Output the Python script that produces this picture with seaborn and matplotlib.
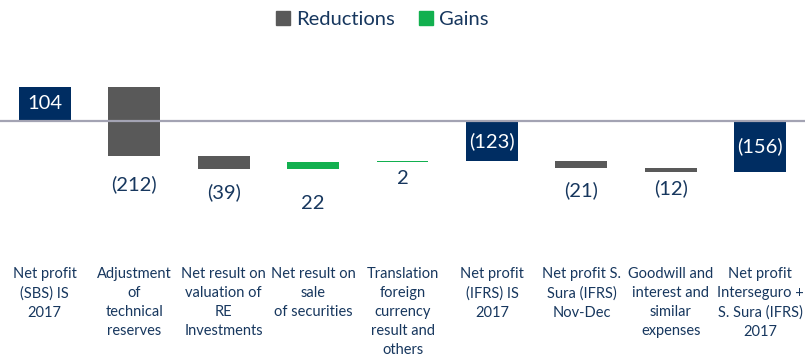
import matplotlib
matplotlib.use("Agg")
import matplotlib.pyplot as plt
import seaborn as sns
import pandas as pd
from matplotlib.lines import Line2D

# Bridge from SBS net profit to IFRS net profit (Interseguro + S. Sura), 2017
categories = [
    "Net profit\n(SBS) IS\n2017",
    "Adjustment\nof\ntechnical\nreserves",
    "Net result on\nvaluation of\nRE\nInvestments",
    "Net result on\nsale\nof securities",
    "Translation\nforeign\ncurrency\nresult and\nothers",
    "Net profit\n(IFRS) IS\n2017",
    "Net profit S.\nSura (IFRS)\nNov-Dec",
    "Goodwill and\ninterest and\nsimilar\nexpenses",
    "Net profit\nInterseguro +\nS. Sura (IFRS)\n2017",
]
values = [104, -212, -39, 22, 2, -123, -21, -12, -156]
kinds = ["total", "step", "step", "step", "step", "total", "step", "step", "total"]
legend_labels = ["Reductions", "Gains"]

# styling
NAVY = "#002D62"
GREY = "#595959"
GREEN = "#12B04F"
TEXT = "#17375E"
ZERO_LINE = "#A3A3B3"
FONT = ["Lato", "DejaVu Sans"]
# extra distance (px) between a step bar's lower edge and its value label
label_gap_px = [0, 28, 23, 34, 16, 0, 22, 16, 0]

sns.set_theme(style="white")
plt.rcParams["font.family"] = FONT

# floating bar geometry
bottoms, heights, colors = [], [], []
running = 0
for v, k in zip(values, kinds):
    if k == "total":
        bottoms.append(0)
        running = v
        colors.append(NAVY)
    else:
        bottoms.append(running)
        running += v
        colors.append(GREY if v < 0 else GREEN)
    heights.append(v)

df = pd.DataFrame({"category": categories, "height": heights})

fig = plt.figure(figsize=(8.05, 3.58), dpi=100)
ax = fig.add_axes([0, (358 - 250) / 358, 1, 210 / 358])

sns.barplot(data=df, x="category", y="height", bottom=bottoms, width=0.58,
            color=GREY, saturation=1, ax=ax, errorbar=None)
for patch, c in zip(ax.patches, colors):
    patch.set_facecolor(c)
    patch.set_edgecolor("none")
    patch.set_linewidth(0)

ax.axhline(0, color=ZERO_LINE, lw=1.6, zorder=5)

ax.set_xlim(-0.5, len(categories) - 0.5)
ax.set_ylim(-393, 247)
ax.set_xlabel("")
ax.set_ylabel("")
ax.set_yticks([])
for s in ax.spines.values():
    s.set_visible(False)

ax.tick_params(axis="x", length=0, pad=12, labelsize=10.5, labelcolor=TEXT)
for t in ax.get_xticklabels():
    t.set_linespacing(1.47)
    t.set_verticalalignment("top")

# value labels
for i, (v, k, b) in enumerate(zip(values, kinds, bottoms)):
    txt = f"({abs(v)})" if v < 0 else f"{v}"
    if k == "total":
        ax.text(i, v / 2, txt, ha="center", va="center", color="white",
                fontsize=14.5, zorder=6)
    else:
        low = min(b, b + v)
        ax.annotate(txt, (i, low), xytext=(0, -label_gap_px[i] * 0.72),
                    textcoords="offset points", ha="center", va="center",
                    color=TEXT, fontsize=14.5)

handles = [Line2D([], [], marker="s", linestyle="", markersize=10, color=GREY),
           Line2D([], [], marker="s", linestyle="", markersize=10, color=GREEN)]
fig.legend(handles, legend_labels, loc="upper center", bbox_to_anchor=(0.475, 1.02),
           ncol=2, frameon=False, fontsize=14.5, labelcolor=TEXT,
           handlelength=0.7, handletextpad=0.3, columnspacing=1.2)

fig.savefig("out.png", dpi=100)
